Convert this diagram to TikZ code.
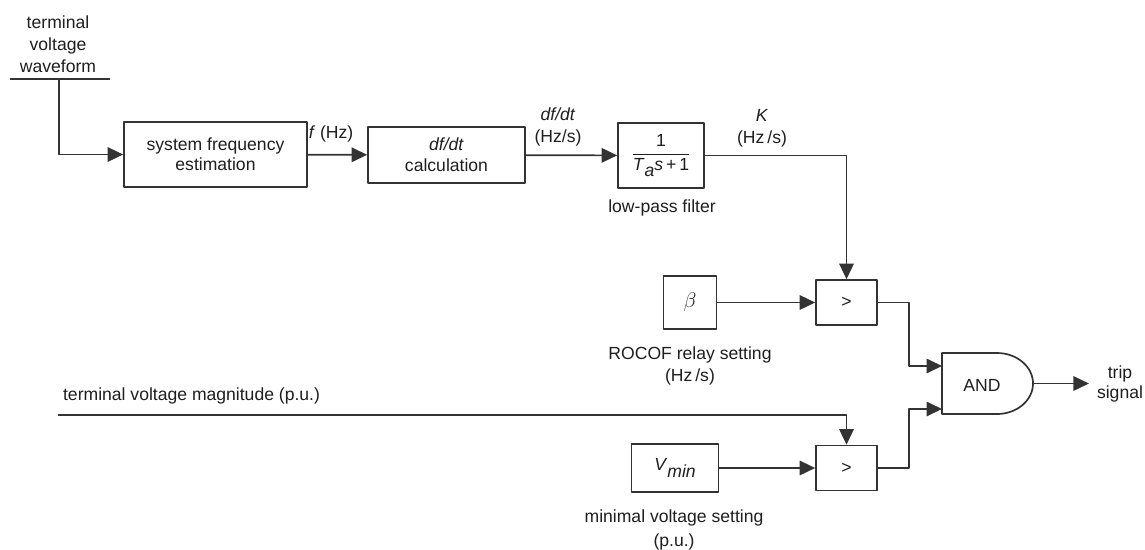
\documentclass[tikz,border=0pt]{standalone}
\usepackage{fontspec}
\setmainfont{Liberation Sans}
\usetikzlibrary{arrows.meta}
\definecolor{blockline}{HTML}{333333}
\definecolor{blocktext}{HTML}{1E1E1E}

\begin{document}
\begin{tikzpicture}[
  x={(0.2mm,0mm)},
  y={(0mm,-0.2mm)},
  line join=round,
  font=\fontsize{10}{11.5}\selectfont,
  text=blocktext,
  block/.style={draw=blockline,line width=0.34mm,inner sep=0pt,align=center},
  wire/.style={draw=blockline,line width=0.34mm},
  signal/.style={wire,-{Triangle[length=3.1mm,width=2.9mm]}},
  tag/.style={align=center,inner sep=1pt,font=\fontsize{10}{12.5}\selectfont}
]
  \useasboundingbox (0,0) rectangle (1145,549);

  % Forward path: estimation, derivative and smoothing blocks.
  \node[block,minimum width=36.6mm,minimum height=13mm] (sfe) at (215.5,154.5) {system frequency\\estimation};
  \node[block,minimum width=31.4mm,minimum height=11.2mm,font=\fontsize{10}{12}\selectfont] (dfdt) at (446.5,155) {\textit{df/dt}\\calculation};
  \node[block,minimum width=17.2mm,minimum height=13mm] (lpf) at (661,155.5)
    {${\displaystyle\frac{\mbox{1}}{\mbox{\textit{T}\raisebox{-0.6ex}{\textit{a}}\textit{s}\,+\,1}}}$};

  % Threshold blocks and comparators.
  \node[block,minimum width=10.6mm,minimum height=10.6mm,font=\large] (beta) at (690,302.5) {$\beta$};
  \node[block,minimum width=12.2mm,minimum height=9mm] (cmp1) at (846.5,302.5) {>};
  \node[block,minimum width=17.4mm,minimum height=9.6mm] (vmin) at (675,468) {\textit{V}\raisebox{-0.8ex}{\textit{min}}};
  \node[block,minimum width=12.2mm,minimum height=9mm] (cmp2) at (846.5,468) {>};

  % AND gate drawn as a D shape.
  \draw[wire] (942,353) -- (997,353) arc[start angle=90,end angle=-90,x radius=7.2mm,y radius=6.1mm] -- (942,414) -- cycle;
  \node[inner sep=0pt] (andg) at (982,385) {AND};
  \coordinate (in1) at (942,366);
  \coordinate (in2) at (942,409);
  \coordinate (andout) at (1033,383.5);
  \coordinate (bus) at (909,0);

  % Labels.
  \node[tag] (wave) at (58,44) {terminal\\voltage\\waveform};
  \coordinate (wavel) at (10,79);
  \coordinate (waver) at (110,79);
  \coordinate (wavein) at (59,79);
  \node[tag] (flab) at (331,134) {\textit{f} (Hz)};
  \node[tag] (dflab) at (558,127) {\textit{df/dt}\\(Hz/s)};
  \node[tag] (klab) at (762,128) {\textit{K}\\(Hz\,/s)};
  \node[tag] (lpflab) at (662,208) {low-pass filter};
  \node[tag,font=\fontsize{10}{13}\selectfont] (rocof) at (690,366) {ROCOF relay setting\\(Hz\,/s)};
  \node[tag,anchor=west] (vmaglab) at (61,396) {terminal voltage magnitude (p.u.)};
  \coordinate (vmagin) at (58,415);
  \node[tag,font=\fontsize{10}{13.5}\selectfont] (vminlab) at (674,530) {minimal voltage setting\\(p.u.)};
  \node[tag,font=\fontsize{10}{11}\selectfont] (trip) at (1120,384) {trip\\signal};

  % Connections.
  \draw[wire] (wavel) -- (waver);
  \draw[signal] (wavein) |- (sfe.west);
  \draw[signal] (sfe) -- (dfdt);
  \draw[signal] (dfdt) -- (lpf);
  \draw[signal] (lpf.east) -| (cmp1.north);
  \draw[signal] (beta) -- (cmp1);
  \draw[signal] (vmagin) -| (cmp2.north);
  \draw[signal] (vmin) -- (cmp2);
  \draw[signal] (cmp1.east) -- (cmp1.east -| bus) |- (in1);
  \draw[signal] (cmp2.east) -- (cmp2.east -| bus) |- (in2);
  \draw[signal] (andout) -- ([xshift=-1.2mm]andout -| trip.west);
\end{tikzpicture}
\end{document}
